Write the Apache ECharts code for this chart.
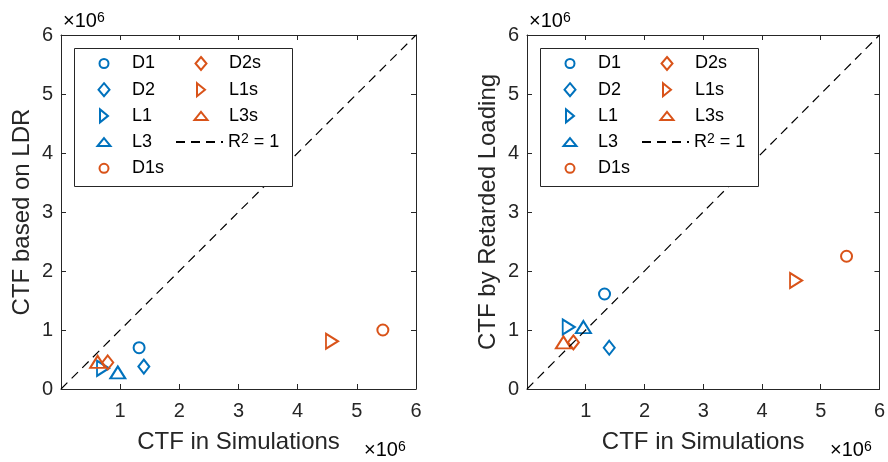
<!DOCTYPE html>
<html>
<head>
<meta charset="utf-8">
<script src="https://cdn.jsdelivr.net/npm/echarts@6/dist/echarts.min.js"></script>
<style>
html,body{margin:0;padding:0;background:#fff;}
#c{width:888px;height:462px;}
</style>
</head>
<body>
<div id="c"></div>
<script>
// Values in units of 1e6 (axis multiplier shown as "×10^6")
const names = ['D1', 'D2', 'L1', 'L3', 'D1s', 'D2s', 'L1s', 'L3s'];
const simCTF = [1.32, 1.40, 0.71, 0.96, 5.44, 0.79, 4.58, 0.62];
const ldrCTF = [0.70, 0.38, 0.35, 0.28, 1.00, 0.45, 0.81, 0.46];
const retardedCTF = [1.61, 0.70, 1.05, 1.05, 2.25, 0.79, 1.84, 0.79];
const refLine = [[0, 0], [6, 6]];
const refName = 'R2';
const tickValues = [0, 1, 2, 3, 4, 5, 6];

const BLUE = '#0072BD', ORANGE = '#D95319', AX = '#262626';
const FONT = '"Liberation Sans", Arial, Helvetica, sans-serif';

const SYM = {
  circle: { symbol: 'circle', size: 11, leg: [9, 9] },
  diamond: { symbol: 'path://M6,0L12,7L6,14L0,7Z', size: [11, 14], leg: [11, 13] },
  triUp: { symbol: 'path://M6,0L12,10.4L0,10.4Z', size: [15, 12], leg: [13, 8] },
  triRight: { symbol: 'path://M0,0L10.4,6L0,12Z', size: [12, 15], leg: [8, 13] }
};
const markerOf = ['circle', 'diamond', 'triRight', 'triUp', 'circle', 'diamond', 'triRight', 'triUp'];
const colorOf = [BLUE, BLUE, BLUE, BLUE, ORANGE, ORANGE, ORANGE, ORANGE];

const G = [
  { left: 61, yName: 'CTF based on LDR', yVals: ldrCTF },
  { left: 527, yName: 'CTF by Retarded Loading', yVals: retardedCTF }
];
const GW = 355, GH = 354, GTOP = 35;

const xAxis = [], yAxis = [], grid = [], series = [], legend = [], graphic = [];
const tickMin = tickValues[0], tickMax = tickValues[tickValues.length - 1];

// legend layout: [column, row] for each entry
const legCols = [{ cx: 103, tx: 131 }, { cx: 200, tx: 228 }];
const legRow0 = 63.5, legPitch = 26.2;
const legPlace = [[0, 0], [0, 1], [0, 2], [0, 3], [0, 4], [1, 0], [1, 1], [1, 2]];

G.forEach((g, gi) => {
  grid.push({ left: g.left, top: GTOP, width: GW, height: GH, containLabel: false });
  const common = {
    gridIndex: gi, type: 'value', min: tickMin, max: tickMax, interval: 1,
    axisLine: { show: true, onZero: false, lineStyle: { color: AX, width: 1 } },
    axisTick: { show: true, inside: true, length: 5, lineStyle: { color: AX, width: 1 } },
    splitLine: { show: false }
  };
  xAxis.push(Object.assign({}, common, {
    position: 'bottom',
    axisLabel: { show: true, color: AX, fontSize: 20, fontFamily: FONT, margin: 12,
      formatter: v => (v === 0 ? '' : String(v)) },
    name: 'CTF in Simulations', nameLocation: 'middle', nameGap: 41,
    nameTextStyle: { color: AX, fontSize: 24, fontFamily: FONT }
  }));
  xAxis.push(Object.assign({}, common, { position: 'top', axisLabel: { show: false } }));
  yAxis.push(Object.assign({}, common, {
    position: 'left',
    axisLabel: { show: true, color: AX, fontSize: 20, fontFamily: FONT, margin: 8 },
    name: g.yName, nameLocation: 'middle', nameGap: 27,
    nameTextStyle: { color: AX, fontSize: 24, fontFamily: FONT }
  }));
  yAxis.push(Object.assign({}, common, { position: 'right', axisLabel: { show: false } }));

  names.forEach((n, i) => {
    const s = SYM[markerOf[i]];
    series.push({
      type: 'scatter', name: n, xAxisIndex: gi * 2, yAxisIndex: gi * 2,
      symbol: s.symbol, symbolSize: s.size,
      itemStyle: { color: 'rgba(0,0,0,0)', borderColor: colorOf[i], borderWidth: 2, opacity: 1 },
      emphasis: { disabled: true },
      data: [[simCTF[i], g.yVals[i]]],
      z: 3
    });
  });
  series.push({
    type: 'line', name: refName, xAxisIndex: gi * 2, yAxisIndex: gi * 2,
    symbol: 'none', showSymbol: false,
    lineStyle: { color: '#000', width: 1.2, type: [9, 6] },
    itemStyle: { color: 'rgba(0,0,0,0)', borderWidth: 0 },
    emphasis: { disabled: true },
    data: refLine, z: 4, silent: true
  });

  const off = g.left - 61;
  graphic.push({
    type: 'rect', z: 50,
    shape: { x: 74.5 + off, y: 48.5, width: 218, height: 138 },
    style: { fill: '#fff', stroke: AX, lineWidth: 1 }
  });
  const mkText = (padLeft) => ({
    color: '#000', fontSize: 18, fontFamily: FONT, lineHeight: 20, padding: [0, 0, 0, padLeft],
    rich: {
      n: { fontSize: 18, fontFamily: FONT, lineHeight: 20, color: '#000' },
      s: { fontSize: 14, fontFamily: FONT, lineHeight: 14, verticalAlign: 'top', color: '#000' }
    }
  });
  const legBase = {
    orient: 'vertical', padding: 0, z: 60, selectedMode: false, symbolKeepAspect: false,
    formatter: nm => (nm === refName ? '{n|R}{s|2}{n| = 1}' : nm)
  };
  names.forEach((n, i) => {
    const [w, h] = SYM[markerOf[i]].leg;
    const col = legCols[legPlace[i][0]];
    const left = col.cx - w / 2;
    const pad = col.tx - (left + w + 5);
    legend.push(Object.assign({}, legBase, {
      left: left + off, top: legRow0 + legPlace[i][1] * legPitch - 10,
      itemWidth: w, itemHeight: h, textStyle: mkText(pad), data: [n],
      itemStyle: { color: 'rgba(0,0,0,0)', borderColor: colorOf[i], borderWidth: 2 }
    }));
  });
  legend.push(Object.assign({}, legBase, {
    left: 175 + off, top: legRow0 + 3 * legPitch - 10, itemWidth: 47, itemHeight: 12,
    textStyle: mkText(0), data: [refName],
    itemStyle: { color: 'rgba(0,0,0,0)', borderWidth: 0 }
  }));

  // exponent labels
  const expStyle = {
    rich: {
      a: { fontSize: 20, fontFamily: FONT, color: AX, lineHeight: 20 },
      s: { fontSize: 14, fontFamily: FONT, color: AX, lineHeight: 14, verticalAlign: 'top' }
    }
  };
  graphic.push({ type: 'text', z: 50, x: 63 + off, y: 21,
    style: Object.assign({ text: '{a|×10}{s|6}', verticalAlign: 'middle', align: 'left' }, expStyle) });
  graphic.push({ type: 'text', z: 50, x: 364 + off, y: 450,
    style: Object.assign({ text: '{a|×10}{s|6}', verticalAlign: 'middle', align: 'left' }, expStyle) });
});

const chart = echarts.init(document.getElementById('c'), null, { renderer: 'canvas' });
chart.setOption({
  animation: false,
  backgroundColor: '#fff',
  textStyle: { fontFamily: FONT },
  grid, xAxis, yAxis, series, legend, graphic
});
</script>
</body>
</html>
